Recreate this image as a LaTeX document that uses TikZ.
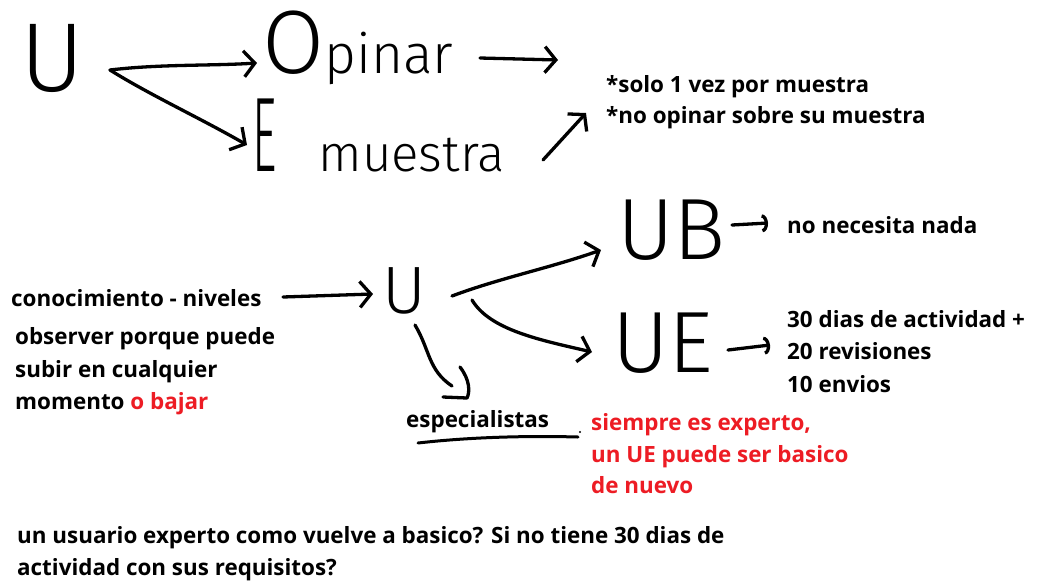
\documentclass[tikz,border=0pt]{standalone}
\usepackage{fontspec}
\setmainfont{Open Sans}
\IfFontExistsTF{Fira Sans Light}{\newfontfamily\hand{Fira Sans Light}}{\newfontfamily\hand{Liberation Sans}}
\usetikzlibrary{arrows.meta}
\definecolor{pred}{RGB}{237,28,36}
\begin{document}
\begin{tikzpicture}[x=1pt,y=-1pt,
  ink/.style={line width=3.3pt,line cap=round,line join=round},
  harrow/.style={ink,-{Straight Barb[length=11pt,width=26pt]}},
  sarrow/.style={ink,-{Arc Barb[length=6pt,width=18pt]}},
  hw/.style={inner sep=0pt,anchor=base west,font=\hand},
  txt/.style={inner sep=0pt,anchor=base west,font=\fontsize{22.4}{32}\selectfont\bfseries},
  red/.style={text=pred}]
\useasboundingbox[fill=white] (0,0) rectangle (1053,582);

% handwritten words
\node[hw] (u1) at (20,91) {\fontsize{98}{98}\selectfont U};
\node[hw] (opinar) at (262,73) {\fontsize{90}{90}\selectfont O\fontsize{55}{55}\selectfont pinar};
\node[hw] (emuestra) at (252,171) {\scalebox{0.45}[1]{\fontsize{106}{106}\selectfont E}\hspace{42pt}\fontsize{51}{51}\selectfont muestra};
\node[hw] (u2) at (382,313) {\fontsize{67}{67}\selectfont U};
\node[hw] (ub) at (617,259) {\fontsize{87}{87}\selectfont UB};
\node[hw] (ue) at (612,372) {\fontsize{87}{87}\selectfont UE};

% typed notes
\node[txt] (n1) at (606,92) {*solo 1 vez por muestra};
\node[txt] (n2) at (606,123) {*no opinar sobre su muestra};
\node[txt] (con) at (11,306) {conocimiento - niveles};
\node[txt] (obs1) at (15,344) {observer porque puede};
\node[txt] (obs2) at (15,377) {subir en cualquier};
\node[txt] (obs3) at (15,409) {momento \textcolor{pred}{o bajar}};
\node[txt] (esp) at (406,427) {especialistas};
\node[txt,red] (r1) at (591,430) {siempre es experto,};
\node[txt,red] (r2) at (591,462) {un UE puede ser basico};
\node[txt,red] (r3) at (591,493) {de nuevo};
\node[txt] (nada) at (787,233) {no necesita nada};
\node[txt] (req1) at (787,327) {30 dias de actividad +};
\node[txt] (req2) at (787,359) {20 revisiones};
\node[txt] (req3) at (787,392) {10 envios};
\node[txt] (q1) at (17,543) {un usuario experto como vuelve a basico? Si no tiene 30 dias de};
\node[txt] (q2) at (17,575) {actividad con sus requisitos?};

% connector end points
\coordinate (fork1) at (110,70);
\coordinate (opinar-in) at (257,63);
\coordinate (e-in) at (247,145);
\coordinate (opinar-out) at (480,58);
\coordinate (opinar-to) at (558,60);
\coordinate (em-out) at (543,160);
\coordinate (em-to) at (586,113);
\coordinate (con-out) at (283,297);
\coordinate (u2-in) at (373,294);
\coordinate (u2-up) at (452,296);
\coordinate (ub-in) at (601,250);
\coordinate (u2-right) at (472,300);
\coordinate (ue-in) at (592,352);
\coordinate (u2-down) at (415,325);
\coordinate (spec-in) at (452,386);
\coordinate (ub-out) at (732,225);
\coordinate (nada-in) at (768,223);
\coordinate (ue-out) at (728,350);
\coordinate (req-in) at (770,345);

% connectors
\draw[harrow] (fork1) .. controls (160,64) and (210,66) .. (opinar-in);
\draw[harrow] (fork1) .. controls (150,95) and (200,118) .. (e-in);
\draw[harrow] (opinar-out) -- (opinar-to);
\draw[harrow] (em-out) -- (em-to);
\draw[harrow] (con-out) -- (u2-in);
\draw[harrow] (u2-up) .. controls (500,278) and (550,268) .. (ub-in);
\draw[harrow] (u2-right) .. controls (490,330) and (540,340) .. (ue-in);
\draw[ink] (u2-down) .. controls (430,350) and (428,370) .. (spec-in);
\draw[ink] (460,367) .. controls (470,380) and (470,392) .. (467,398) -- (443,397);
\draw[sarrow] (ub-out) -- (nada-in);
\draw[sarrow] (ue-out) -- (req-in);
\draw[ink,line width=3pt] (418,443) .. controls (480,436) and (540,436) .. (578,437);
\fill (580,432) circle (1.2pt);
\end{tikzpicture}
\end{document}
